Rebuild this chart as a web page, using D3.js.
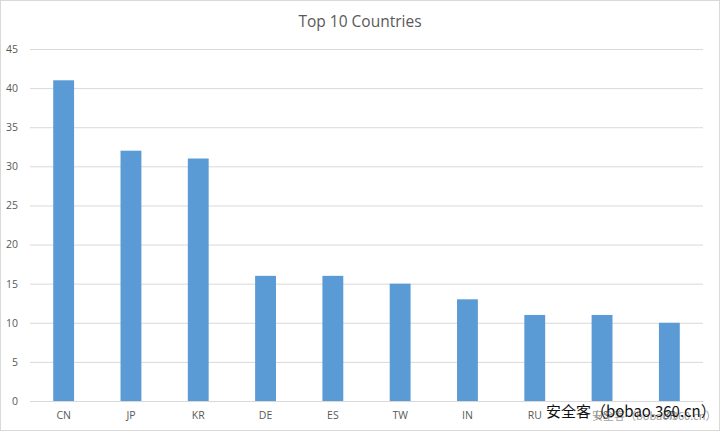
<!DOCTYPE html>
<html><head><meta charset="utf-8">
<script src="https://cdn.jsdelivr.net/npm/d3@7"></script>
<style>body{margin:0;background:#fff}svg{display:block}</style>
</head><body>
<script>
const categories = ["CN","JP","KR","DE","ES","TW","IN","RU","US","BR"];
const values = [41,32,31,16,16,15,13,11,11,10];
const yTicks = [0,5,10,15,20,25,30,35,40,45];
const title = "Top 10 Countries";
const watermark = "安全客（bobao.360.cn）";

const W = 720, H = 431;
const svg = d3.select("body").append("svg").attr("width", W).attr("height", H);
svg.append("rect").attr("x",0.5).attr("y",0.5).attr("width",W-1).attr("height",H-1)
  .attr("fill","#fff").attr("stroke","#d9d9d9");

const m = {left:30, right:17, top:49, bottom:30};
const x = d3.scaleBand().domain(categories).range([m.left, W-m.right]).paddingInner(0.69).paddingOuter(0.345);
const y = d3.scaleLinear().domain([0,45]).range([H-m.bottom, m.top]);

svg.append("text").attr("x", W/2).attr("y", 27).attr("text-anchor","middle")
  .attr("font-family","Open Sans, Liberation Sans, sans-serif").attr("font-size",15.5).attr("fill","#595959").text(title);

const yAxis = svg.append("g").attr("transform",`translate(${m.left},0)`)
  .call(d3.axisLeft(y).tickValues(yTicks).tickSize(-(W-m.left-m.right)).tickPadding(12));
yAxis.select(".domain").remove();
yAxis.selectAll(".tick line").attr("stroke","#d9d9d9");
yAxis.selectAll(".tick text").attr("font-family","Open Sans, Liberation Sans, sans-serif").attr("font-size",10.5).attr("fill","#595959");

svg.selectAll("rect.bar").data(values).enter().append("rect").attr("class","bar")
  .attr("x",(d,i)=>x(categories[i])).attr("width",x.bandwidth())
  .attr("y",d=>y(d)).attr("height",d=>y(0)-y(d)).attr("fill","#5b9bd5");

const xAxis = svg.append("g").attr("transform",`translate(0,${y(0)})`)
  .call(d3.axisBottom(x).tickSize(0).tickPadding(11));
xAxis.select(".domain").attr("stroke","#d9d9d9");
xAxis.selectAll(".tick text").attr("font-family","Open Sans, Liberation Sans, sans-serif").attr("font-size",10.5).attr("fill","#595959");

svg.append("text").attr("x",592).attr("y",420).attr("font-family","Noto Sans CJK SC, sans-serif")
  .attr("font-size",11).attr("fill","#a0a0a0").text(watermark);
svg.append("text").attr("x",546).attr("y",417).attr("font-family","Noto Sans CJK SC, sans-serif")
  .attr("font-size",15).attr("fill","#111").text(watermark);
</script>
</body></html>
